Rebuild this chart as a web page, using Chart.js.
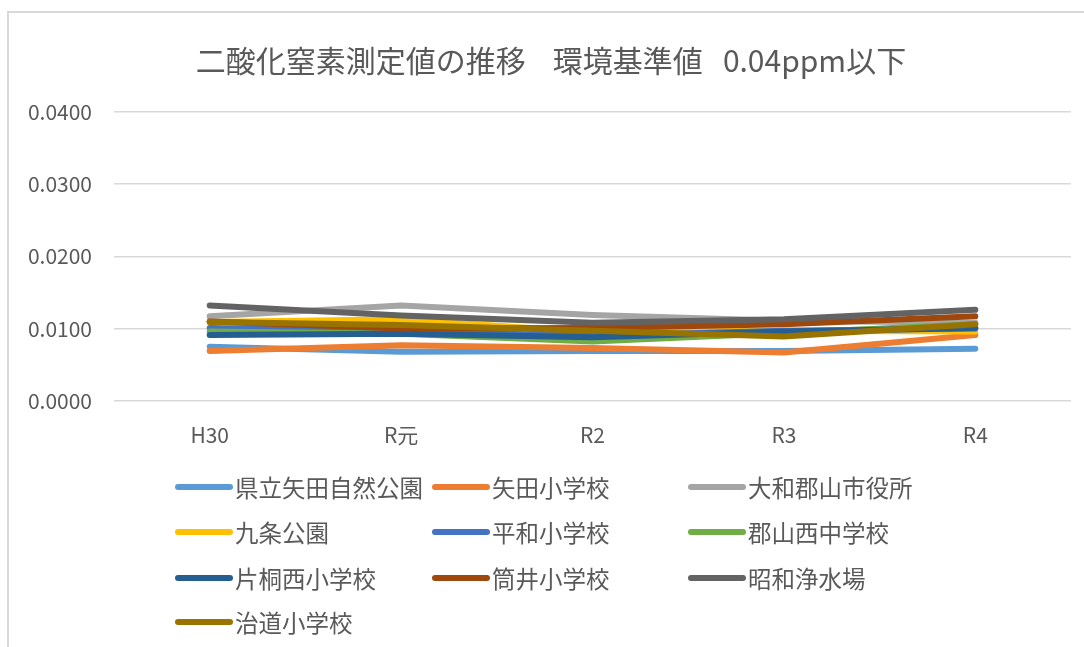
<!DOCTYPE html>
<html>
<head>
<meta charset="utf-8">
<script src="https://cdn.jsdelivr.net/npm/chart.js@4"></script>
<style>
  html, body { margin: 0; padding: 0; background: #fff; }
  #wrap { position: relative; width: 1084px; height: 647px; overflow: hidden; }
  #frame { position: absolute; left: 7px; top: 11px; width: 1100px; height: 700px;
           border: 2px solid #d9d9d9; box-sizing: border-box; }
  #chartBox { position: absolute; left: 0; top: 0; width: 1084px; height: 647px; }
</style>
</head>
<body>
<div id="wrap">
  <div id="frame"></div>
  <div id="chartBox"><canvas id="no2Chart"></canvas></div>
</div>
<script>
// 年度
const years = ['H30', 'R元', 'R2', 'R3', 'R4'];

// 測定地点
const stations = ['県立矢田自然公園', '矢田小学校', '大和郡山市役所', '九条公園', '平和小学校',
                  '郡山西中学校', '片桐西小学校', '筒井小学校', '昭和浄水場', '治道小学校'];

// 各地点の測定値 (ppm)
const yatadShizen = [0.0075, 0.0068, 0.0069, 0.0069, 0.0072];
const yataShou    = [0.0069, 0.0077, 0.0073, 0.0067, 0.0091];
const yamatoShiyakusho = [0.0117, 0.0132, 0.0119, 0.0111, 0.0108];
const kujoKoen    = [0.0109, 0.0113, 0.0095, 0.0097, 0.0096];
const heiwaShou   = [0.0101, 0.0096, 0.0090, 0.0097, 0.0100];
const koriyamaNishi = [0.0096, 0.0093, 0.0082, 0.0094, 0.0106];
const katagiriNishi = [0.0091, 0.0093, 0.0088, 0.0096, 0.0101];
const tsutsuiShou = [0.0110, 0.0100, 0.0101, 0.0106, 0.0117];
const showaJosui  = [0.0132, 0.0118, 0.0108, 0.0113, 0.0126];
const hadoShou    = [0.0109, 0.0105, 0.0097, 0.0089, 0.0106];

const seriesValues = [yatadShizen, yataShou, yamatoShiyakusho, kujoKoen, heiwaShou,
                      koriyamaNishi, katagiriNishi, tsutsuiShou, showaJosui, hadoShou];

// 目盛り
const yTicks = [0, 0.01, 0.02, 0.03, 0.04];

const chartTitle = '二酸化窒素測定値の推移    環境基準値   0.04ppm以下';

// Excel 標準カラー
const colors = ['#5B9BD5', '#ED7D31', '#A5A5A5', '#FFC000', '#4472C4',
                '#70AD47', '#255E91', '#9E480E', '#636363', '#997300'];

const FONT = '"Noto Sans CJK JP", "Noto Sans", sans-serif';
const TEXT_COLOR = '#595959';

// タイトルと凡例（3列グリッド）を描画
const titleAndLegend = {
    id: 'titleAndLegend',
    afterDraw(chart) {
        const ctx = chart.ctx;
        ctx.save();
        // タイトル
        ctx.font = '30px ' + FONT;
        ctx.fillStyle = TEXT_COLOR;
        ctx.textAlign = 'center';
        ctx.textBaseline = 'middle';
        ctx.fillText(chartTitle, 551, 61);

        // 凡例
        const colX = [175, 432, 688];
        const rowY = [487, 532, 578, 622];
        ctx.font = '23.5px ' + FONT;
        ctx.textAlign = 'left';
        chart.data.datasets.forEach((ds, i) => {
            const x = colX[i % 3];
            const y = rowY[Math.floor(i / 3)];
            ctx.strokeStyle = ds.borderColor;
            ctx.lineWidth = 6;
            ctx.lineCap = 'round';
            ctx.beginPath();
            ctx.moveTo(x + 3, y);
            ctx.lineTo(x + 55, y);
            ctx.stroke();
            ctx.fillStyle = TEXT_COLOR;
            ctx.fillText(ds.label, x + 60, y + 1);
        });
        ctx.restore();
    }
};

function initChart() {
    const canvas = document.getElementById('no2Chart');
    const datasets = stations.map((name, i) => ({
        label: name,
        data: seriesValues[i],
        borderColor: colors[i],
        backgroundColor: colors[i],
        borderWidth: 6,
        pointRadius: 0,
        tension: 0,
        fill: false,
        borderCapStyle: 'round',
        borderJoinStyle: 'round',
        order: stations.length - i   // 後の系列を上に描く
    }));

    new Chart(canvas, {
        type: 'line',
        data: { labels: years, datasets: datasets },
        options: {
            responsive: true,
            maintainAspectRatio: false,
            animation: false,
            layout: { padding: { left: 0, right: 13, top: 112, bottom: 185 } },
            plugins: {
                legend: { display: false },
                tooltip: { enabled: false },
                title: { display: false }
            },
            scales: {
                x: {
                    offset: true,
                    grid: { display: false },
                    border: { display: false },
                    ticks: {
                        color: TEXT_COLOR,
                        font: { family: FONT, size: 21 },
                        padding: 14,
                        maxRotation: 0
                    }
                },
                y: {
                    min: 0,
                    max: 0.04,
                    afterFit: scale => { scale.width = 114; },
                    afterBuildTicks: scale => {
                        scale.ticks = yTicks.map(v => ({ value: v }));
                    },
                    grid: { color: '#d9d9d9', lineWidth: 1.5, drawTicks: false },
                    border: { display: false },
                    ticks: {
                        color: TEXT_COLOR,
                        font: { family: FONT, size: 21 },
                        padding: 22,
                        callback: v => Number(v).toFixed(4)
                    }
                }
            }
        },
        plugins: [titleAndLegend]
    });
}

document.addEventListener('DOMContentLoaded', function() {
    if (typeof Chart === 'undefined') {
        console.error('Chart.js not loaded');
        return;
    }
    initChart();
});
</script>
</body>
</html>
